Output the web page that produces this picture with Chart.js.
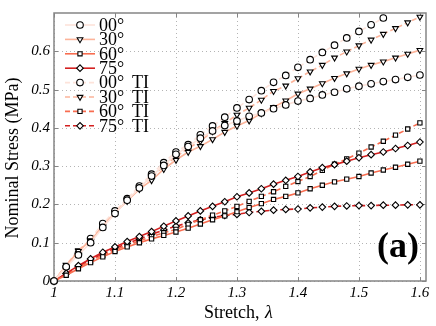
<!DOCTYPE html>
<html>
<head>
<meta charset="utf-8">
<script src="https://cdn.jsdelivr.net/npm/chart.js@4.4.1/dist/chart.umd.min.js"></script>
<style>
  html, body { margin: 0; padding: 0; background: #fff; }
  #wrap { width: 436px; height: 326px; }
</style>
</head>
<body>
<div id="wrap"><canvas id="chart" width="436" height="326"></canvas></div>
<script>
// ---------- data ----------
const stretch = [1.00, 1.02, 1.04, 1.06, 1.08, 1.10, 1.12, 1.14, 1.16, 1.18, 1.20,
  1.22, 1.24, 1.26, 1.28, 1.30, 1.32, 1.34, 1.36, 1.38, 1.40,
  1.42, 1.44, 1.46, 1.48, 1.50, 1.52, 1.54, 1.56, 1.58, 1.60];

const s00 = [0, 0.037, 0.068, 0.100, 0.140, 0.176, 0.211, 0.243, 0.274, 0.302, 0.331,
  0.351, 0.373, 0.392, 0.406, 0.418, 0.430, 0.439, 0.450, 0.460, 0.470,
  0.477, 0.486, 0.493, 0.502, 0.509, 0.515, 0.521, 0.526, 0.532, 0.538];
const s30 = [0, 0.040, 0.078, 0.106, 0.142, 0.178, 0.209, 0.240, 0.263, 0.292, 0.316,
  0.337, 0.352, 0.370, 0.389, 0.405, 0.419, 0.438, 0.454, 0.471, 0.489,
  0.502, 0.516, 0.530, 0.542, 0.554, 0.564, 0.573, 0.583, 0.593, 0.603];
const s60 = [0, 0.015, 0.032, 0.048, 0.063, 0.077, 0.089, 0.100, 0.110, 0.119, 0.128,
  0.138, 0.149, 0.160, 0.170, 0.181, 0.192, 0.202, 0.213, 0.221, 0.230,
  0.241, 0.250, 0.259, 0.266, 0.273, 0.282, 0.290, 0.297, 0.305, 0.313];
const s75 = [0, 0.020, 0.040, 0.058, 0.075, 0.089, 0.103, 0.116, 0.129, 0.143, 0.157,
  0.170, 0.183, 0.195, 0.207, 0.220, 0.230, 0.241, 0.253, 0.263, 0.273,
  0.285, 0.296, 0.304, 0.313, 0.322, 0.330, 0.337, 0.346, 0.354, 0.363];
const s00TI = [0, 0.037, 0.072, 0.111, 0.150, 0.183, 0.215, 0.248, 0.279, 0.309, 0.337,
  0.356, 0.382, 0.405, 0.428, 0.452, 0.474, 0.497, 0.519, 0.537, 0.558,
  0.578, 0.597, 0.616, 0.635, 0.652, 0.669, 0.687, null, null, null];
const s30TI = [0, 0.042, 0.080, 0.108, 0.146, 0.180, 0.212, 0.244, 0.272, 0.300, 0.324,
  0.347, 0.365, 0.391, 0.412, 0.434, 0.452, 0.473, 0.496, 0.510, 0.529,
  0.547, 0.564, 0.583, 0.599, 0.615, 0.630, 0.645, 0.660, 0.675, 0.690];
const s60TI = [0, 0.017, 0.035, 0.052, 0.067, 0.081, 0.094, 0.105, 0.116, 0.126, 0.135,
  0.148, 0.160, 0.172, 0.183, 0.195, 0.208, 0.221, 0.233, 0.247, 0.260,
  0.273, 0.289, 0.305, 0.319, 0.334, 0.350, 0.365, 0.381, 0.397, 0.413];
const s75TI = [0, 0.019, 0.038, 0.055, 0.071, 0.085, 0.098, 0.110, 0.122, 0.133, 0.143,
  0.152, 0.160, 0.166, 0.171, 0.174, 0.179, 0.182, 0.185, 0.187, 0.188,
  0.191, 0.193, 0.195, 0.196, 0.197, 0.197, 0.198, 0.198, 0.199, 0.199];

const xTicks = [1, 1.1, 1.2, 1.3, 1.4, 1.5, 1.6];
const yTicks = [0, 0.1, 0.2, 0.3, 0.4, 0.5, 0.6];

// ---------- style ----------
const SERIF = "'Liberation Serif', 'DejaVu Serif', serif";
const REDS = { '00': '#fde3da', '30': '#fcb49a', '60': '#f86d50', '75': '#d42020' };
const MARKERS = {
  '00': { style: 'circle', rot: 0 },
  '30': { style: 'triangle', rot: 180 },
  '60': { style: 'rect', rot: 0 },
  '75': { style: 'rectRot', rot: 0 }
};

function series(label, key, values, dashed) {
  const m = MARKERS[key];
  return {
    label,
    data: stretch.map((x, i) => ({ x, y: values[i] })),
    borderColor: REDS[key],
    backgroundColor: '#fff',
    borderWidth: 1.6,
    borderDash: dashed ? [5, 3] : [],
    pointStyle: m.style,
    pointRotation: m.rot,
    pointRadius: m.style === 'rect' ? 3 : 3.3,
    pointBorderColor: '#000',
    pointBackgroundColor: '#fff',
    pointBorderWidth: 1.1,
    tension: 0,
    clip: false
  };
}

const datasets = [
  series('00°', '00', s00, false),
  series('30°', '30', s30, false),
  series('60°', '60', s60, false),
  series('75°', '75', s75, false),
  series('00° TI', '00', s00TI, true),
  series('30° TI', '30', s30TI, true),
  series('60° TI', '60', s60TI, true),
  series('75° TI', '75', s75TI, true)
];

// dotted grid, box with inward ticks, axis titles, legend and panel tag
const framePlugin = {
  id: 'frame',
  beforeDatasetsDraw(chart) {
    const { ctx, chartArea: a, scales } = chart;
    ctx.save();
    // dotted grid
    ctx.strokeStyle = '#b4b4b4';
    ctx.lineWidth = 1;
    ctx.setLineDash([1, 3]);
    ctx.beginPath();
    xTicks.forEach(v => {
      const px = Math.round(scales.x.getPixelForValue(v)) + 0.5;
      ctx.moveTo(px, a.top); ctx.lineTo(px, a.bottom);
    });
    yTicks.forEach(v => {
      const py = Math.round(scales.y.getPixelForValue(v)) + 0.5;
      ctx.moveTo(a.left, py); ctx.lineTo(a.right, py);
    });
    ctx.stroke();
    ctx.setLineDash([]);
    // box
    ctx.strokeStyle = '#858585';
    ctx.lineWidth = 1.5;
    ctx.strokeRect(a.left, a.top, a.right - a.left, a.bottom - a.top);
    ctx.lineWidth = 1;
    ctx.beginPath();
    xTicks.forEach(v => {
      const px = Math.round(scales.x.getPixelForValue(v)) + 0.5;
      ctx.moveTo(px, a.bottom); ctx.lineTo(px, a.bottom - 4);
      ctx.moveTo(px, a.top); ctx.lineTo(px, a.top + 4);
    });
    yTicks.forEach(v => {
      const py = Math.round(scales.y.getPixelForValue(v)) + 0.5;
      ctx.moveTo(a.left, py); ctx.lineTo(a.left + 4, py);
      ctx.moveTo(a.right, py); ctx.lineTo(a.right - 4, py);
    });
    ctx.stroke();
    // axis titles
    ctx.fillStyle = '#000';
    ctx.font = '18px ' + SERIF;
    ctx.textAlign = 'center';
    ctx.textBaseline = 'middle';
    ctx.fillText('Stretch, ', (a.left + a.right) / 2 - 6, 313);
    ctx.font = 'italic 18px ' + SERIF;
    ctx.fillText('λ', (a.left + a.right) / 2 + 29, 313);
    ctx.translate(13, 158);
    ctx.rotate(-Math.PI / 2);
    ctx.font = '18px ' + SERIF;
    ctx.fillText('Nominal Stress (MPa)', 0, 0);
    ctx.restore();
  },
  afterDatasetsDraw(chart) {
    const { ctx, chartArea: a } = chart;
    ctx.save();
    // legend, top-left inside the axes
    chart.data.datasets.forEach((ds, i) => {
      const y = 25 + i * 14.4;
      ctx.strokeStyle = ds.borderColor;
      ctx.lineWidth = ds.borderWidth;
      ctx.setLineDash(ds.borderDash);
      ctx.beginPath();
      ctx.moveTo(65, y); ctx.lineTo(95, y);
      ctx.stroke();
      ctx.setLineDash([]);
      ctx.strokeStyle = '#000';
      ctx.fillStyle = '#fff';
      ctx.lineWidth = ds.pointBorderWidth;
      Chart.helpers.drawPoint(ctx, { pointStyle: ds.pointStyle, rotation: ds.pointRotation,
        radius: ds.pointRadius, borderWidth: ds.pointBorderWidth }, 80, y);
      ctx.fillStyle = '#000';
      ctx.font = '18px ' + SERIF;
      ctx.textBaseline = 'middle';
      ctx.textAlign = 'left';
      const parts = ds.label.split(' ');
      ctx.fillText(parts[0], 99, y + 1);
      if (parts[1]) ctx.fillText(parts[1], 132, y + 1);
    });
    // panel tag
    ctx.font = 'bold 36px ' + SERIF;
    ctx.textAlign = 'right';
    ctx.textBaseline = 'middle';
    ctx.fillText('(a)', a.right - 7, 248);
    ctx.restore();
  }
};

const tickFont = { family: SERIF, size: 15, style: 'italic' };
const fmt = v => (Math.abs(v) < 1e-9 ? '0' : String(+v.toFixed(1)));

new Chart(document.getElementById('chart'), {
  type: 'line',
  data: { datasets },
  options: {
    responsive: false,
    animation: false,
    devicePixelRatio: 1,
    layout: { padding: { top: 12, right: 10, left: 0, bottom: 0 } },
    plugins: { legend: { display: false }, tooltip: { enabled: false } },
    scales: {
      x: {
        type: 'linear',
        min: 1, max: 1.61,
        afterFit: s => { s.height = 45; },
        afterBuildTicks: s => { s.ticks = xTicks.map(v => ({ value: v })); },
        ticks: { font: tickFont, color: '#000', padding: 3, maxRotation: 0, callback: fmt },
        grid: { display: false, drawTicks: false },
        border: { display: false }
      },
      y: {
        min: 0, max: 0.7,
        afterFit: s => { s.width = 54; },
        afterBuildTicks: s => { s.ticks = yTicks.map(v => ({ value: v })); },
        ticks: { font: tickFont, color: '#000', padding: 4, callback: fmt },
        grid: { display: false, drawTicks: false },
        border: { display: false }
      }
    }
  },
  plugins: [framePlugin]
});
</script>
</body>
</html>
